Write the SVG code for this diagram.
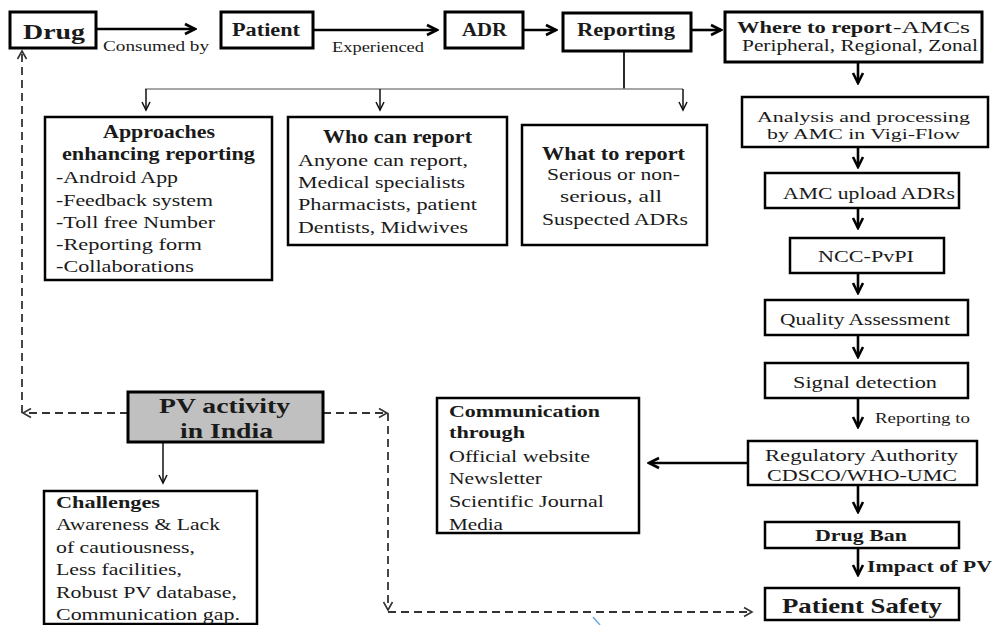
<svg xmlns="http://www.w3.org/2000/svg" width="996" height="625" viewBox="0 0 996 625">
<style>
text{font-family:"Liberation Serif","Times New Roman",serif;fill:#1a1a1a;}
.b{font-weight:bold;}
.box{fill:#fff;stroke:#000;stroke-width:3;}
.box2{fill:#fff;stroke:#000;stroke-width:2.5;}
.gray{fill:#c0c0c0;stroke:#000;stroke-width:3;}
.thick{stroke:#000;stroke-width:2.6;fill:none;}
.thin{stroke:#111;stroke-width:1.5;fill:none;}
.dash{stroke:#333;stroke-width:1.8;fill:none;stroke-dasharray:8 5;}
.f14{font-size:14px;}
.f15{font-size:15px;}
.f16{font-size:16px;}
.f17{font-size:17px;}
.f18{font-size:18px;}
</style>
<defs>
<marker id="mThick" viewBox="-2 -2 14 14" refX="10" refY="5" markerWidth="14" markerHeight="14" markerUnits="userSpaceOnUse" orient="auto">
<path d="M0,0 L10,5 L0,10" fill="none" stroke="#000" stroke-width="2.6"/>
</marker>
<marker id="mThin" viewBox="-2 -2 12 12" refX="8" refY="4" markerWidth="12" markerHeight="12" markerUnits="userSpaceOnUse" orient="auto">
<path d="M0,0 L8,4 L0,8" fill="none" stroke="#111" stroke-width="1.5"/>
</marker>
<marker id="mDash" viewBox="-2 -2 12 12" refX="8" refY="4.5" markerWidth="12" markerHeight="12" markerUnits="userSpaceOnUse" orient="auto">
<path d="M0,0 L8,4.5 L0,9" fill="none" stroke="#333" stroke-width="1.6"/>
</marker>
</defs>
<rect width="996" height="625" fill="#fff"/>

<g id="connectors">
<line class="thick" x1="97" y1="29" x2="195" y2="29" marker-end="url(#mThick)"/>
<line class="thick" x1="313" y1="30" x2="437" y2="30" marker-end="url(#mThick)"/>
<line class="thick" x1="523" y1="30" x2="556" y2="30" marker-end="url(#mThick)"/>
<line class="thick" x1="691" y1="30" x2="721" y2="30" marker-end="url(#mThick)"/>
<line stroke="#111" stroke-width="1.8" x1="624" y1="51" x2="624" y2="89"/>
<line stroke="#888" stroke-width="1.6" x1="145" y1="89" x2="683" y2="89"/>
<line class="thin" x1="146" y1="89" x2="146" y2="110" marker-end="url(#mThin)"/>
<line class="thin" x1="380" y1="89" x2="380" y2="110" marker-end="url(#mThin)"/>
<line class="thin" x1="683" y1="89" x2="683" y2="110" marker-end="url(#mThin)"/>
<line class="thick" x1="858" y1="62" x2="858" y2="83" marker-end="url(#mThick)"/>
<line class="thick" x1="858" y1="147" x2="858" y2="167" marker-end="url(#mThick)"/>
<line class="thick" x1="858" y1="208" x2="858" y2="228" marker-end="url(#mThick)"/>
<line class="thick" x1="858" y1="273" x2="858" y2="293" marker-end="url(#mThick)"/>
<line class="thick" x1="858" y1="335" x2="858" y2="357" marker-end="url(#mThick)"/>
<line class="thick" x1="858" y1="398" x2="858" y2="427" marker-end="url(#mThick)"/>
<line class="thick" x1="858" y1="485" x2="858" y2="512" marker-end="url(#mThick)"/>
<line class="thick" x1="858" y1="548" x2="858" y2="575" marker-end="url(#mThick)"/>
<line class="thick" x1="748" y1="463" x2="649" y2="463" marker-end="url(#mThick)"/>
<line class="thin" x1="163" y1="442" x2="163" y2="483" marker-end="url(#mThin)"/>
<line class="dash" x1="128" y1="413" x2="23" y2="413" marker-end="url(#mDash)"/>
<line class="dash" x1="22" y1="413" x2="22" y2="51" marker-end="url(#mDash)"/>
<line class="dash" x1="323" y1="413" x2="387" y2="413" marker-end="url(#mDash)"/>
<line class="dash" x1="388" y1="413" x2="388" y2="610" marker-end="url(#mDash)"/>
<line class="dash" x1="388" y1="612" x2="752" y2="612" marker-end="url(#mDash)"/>
<line stroke="#6fa8dc" stroke-width="1.5" x1="593" y1="617" x2="600" y2="625"/>
</g>

<g id="drug">
<rect class="box" x="10" y="12" width="86" height="36"/>
<text class="b" x="23" y="39" font-size="21" textLength="62" lengthAdjust="spacingAndGlyphs">Drug</text>
</g>
<g id="label-consumed">
<text class="f14" x="103" y="51" textLength="106" lengthAdjust="spacingAndGlyphs">Consumed by</text>
</g>
<g id="patient">
<rect class="box" x="221" y="12" width="92" height="36"/>
<text class="b f18" x="232" y="36" textLength="68" lengthAdjust="spacingAndGlyphs">Patient</text>
</g>
<g id="label-experienced">
<text class="f14" x="332" y="52" textLength="92" lengthAdjust="spacingAndGlyphs">Experienced</text>
</g>
<g id="adr">
<rect class="box" x="445" y="12" width="78" height="36"/>
<text class="b f18" x="462" y="36" textLength="45" lengthAdjust="spacingAndGlyphs">ADR</text>
</g>
<g id="reporting">
<rect class="box" x="563" y="13" width="128" height="38"/>
<text class="b f18" x="577" y="36" textLength="98" lengthAdjust="spacingAndGlyphs">Reporting</text>
</g>
<g id="where">
<rect class="box" x="725" y="12" width="257" height="50"/>
<text class="b f16" x="737" y="33" textLength="155" lengthAdjust="spacingAndGlyphs">Where to report</text>
<text class="f16" x="893" y="33" textLength="77" lengthAdjust="spacingAndGlyphs">-AMCs</text>
<text class="f16" x="742" y="51" textLength="236" lengthAdjust="spacingAndGlyphs">Peripheral, Regional, Zonal</text>
</g>

<g id="approaches">
<rect class="box2" x="45" y="117" width="227" height="163"/>
<text class="b f18" x="103" y="138" textLength="112" lengthAdjust="spacingAndGlyphs">Approaches</text>
<text class="b f18" x="62" y="160" textLength="193" lengthAdjust="spacingAndGlyphs">enhancing reporting</text>
<text class="f17" x="56" y="183" textLength="122" lengthAdjust="spacingAndGlyphs">-Android App</text>
<text class="f17" x="56" y="206" textLength="157" lengthAdjust="spacingAndGlyphs">-Feedback system</text>
<text class="f17" x="56" y="228" textLength="159" lengthAdjust="spacingAndGlyphs">-Toll free Number</text>
<text class="f17" x="56" y="250" textLength="146" lengthAdjust="spacingAndGlyphs">-Reporting form</text>
<text class="f17" x="56" y="272" textLength="138" lengthAdjust="spacingAndGlyphs">-Collaborations</text>
</g>

<g id="who">
<rect class="box2" x="288" y="117" width="219" height="128"/>
<text class="b f18" x="323" y="143" textLength="149" lengthAdjust="spacingAndGlyphs">Who can report</text>
<text class="f17" x="298" y="166" textLength="170" lengthAdjust="spacingAndGlyphs">Anyone can report,</text>
<text class="f17" x="298" y="188" textLength="167" lengthAdjust="spacingAndGlyphs">Medical specialists</text>
<text class="f17" x="298" y="210" textLength="179" lengthAdjust="spacingAndGlyphs">Pharmacists, patient</text>
<text class="f17" x="298" y="233" textLength="170" lengthAdjust="spacingAndGlyphs">Dentists, Midwives</text>
</g>

<g id="what">
<rect class="box2" x="522" y="125" width="185" height="120"/>
<text class="b f18" x="542" y="160" textLength="143" lengthAdjust="spacingAndGlyphs">What to report</text>
<text class="f17" x="547" y="180" textLength="133" lengthAdjust="spacingAndGlyphs">Serious or non-</text>
<text class="f17" x="560" y="202" textLength="102" lengthAdjust="spacingAndGlyphs">serious, all</text>
<text class="f17" x="542" y="225" textLength="146" lengthAdjust="spacingAndGlyphs">Suspected ADRs</text>
</g>

<g id="analysis">
<rect class="box2" x="742" y="97" width="246" height="50"/>
<text class="f15" x="757" y="122" textLength="213" lengthAdjust="spacingAndGlyphs">Analysis and processing</text>
<text class="f15" x="767" y="139" textLength="193" lengthAdjust="spacingAndGlyphs">by AMC in Vigi-Flow</text>
</g>
<g id="upload">
<rect class="box2" x="765" y="173" width="194" height="35"/>
<text class="f17" x="783" y="199" textLength="172" lengthAdjust="spacingAndGlyphs">AMC upload ADRs</text>
</g>
<g id="ncc">
<rect class="box2" x="790" y="238" width="154" height="35"/>
<text class="f17" x="818" y="262" textLength="96" lengthAdjust="spacingAndGlyphs">NCC-PvPI</text>
</g>
<g id="quality">
<rect class="box2" x="765" y="300" width="203" height="35"/>
<text class="f17" x="780" y="325" textLength="170" lengthAdjust="spacingAndGlyphs">Quality Assessment</text>
</g>
<g id="signal">
<rect class="box2" x="765" y="363" width="203" height="35"/>
<text class="f17" x="793" y="388" textLength="144" lengthAdjust="spacingAndGlyphs">Signal detection</text>
</g>
<g id="label-reporting-to">
<text class="f14" x="875" y="423" textLength="95" lengthAdjust="spacingAndGlyphs">Reporting to</text>
</g>
<g id="regulatory">
<rect class="box2" x="748" y="441" width="229" height="44"/>
<text class="f17" x="765" y="461" textLength="193" lengthAdjust="spacingAndGlyphs">Regulatory Authority</text>
<text class="f17" x="767" y="481" textLength="190" lengthAdjust="spacingAndGlyphs">CDSCO/WHO-UMC</text>
</g>
<g id="drugban">
<rect class="box2" x="765" y="522" width="194" height="26"/>
<text class="b f17" x="815" y="541" textLength="92" lengthAdjust="spacingAndGlyphs">Drug Ban</text>
</g>
<g id="label-impact">
<text class="b" x="867" y="572" font-size="16" textLength="125" lengthAdjust="spacingAndGlyphs">Impact of PV</text>
</g>
<g id="safety">
<rect class="box2" x="765" y="588" width="194" height="32"/>
<text class="b" x="782" y="613" font-size="21" textLength="160" lengthAdjust="spacingAndGlyphs">Patient Safety</text>
</g>

<g id="communication">
<rect class="box2" x="437" y="398" width="202" height="135"/>
<text class="b f17" x="449" y="417" textLength="151" lengthAdjust="spacingAndGlyphs">Communication</text>
<text class="b f17" x="449" y="438" textLength="76" lengthAdjust="spacingAndGlyphs">through</text>
<text class="f17" x="449" y="462" textLength="141" lengthAdjust="spacingAndGlyphs">Official website</text>
<text class="f17" x="449" y="484" textLength="93" lengthAdjust="spacingAndGlyphs">Newsletter</text>
<text class="f17" x="449" y="507" textLength="155" lengthAdjust="spacingAndGlyphs">Scientific Journal</text>
<text class="f17" x="449" y="530" textLength="54" lengthAdjust="spacingAndGlyphs">Media</text>
</g>

<g id="pv">
<rect class="gray" x="128" y="392" width="195" height="50"/>
<text class="b" x="159" y="413" font-size="22" textLength="131" lengthAdjust="spacingAndGlyphs">PV activity</text>
<text class="b" x="180" y="438" font-size="22" textLength="93" lengthAdjust="spacingAndGlyphs">in India</text>
</g>

<g id="challenges">
<rect class="box2" x="44" y="491" width="213" height="133"/>
<text class="b f17" x="56" y="508" textLength="104" lengthAdjust="spacingAndGlyphs">Challenges</text>
<text class="f17" x="56" y="530" textLength="164" lengthAdjust="spacingAndGlyphs">Awareness &amp; Lack</text>
<text class="f17" x="56" y="553" textLength="139" lengthAdjust="spacingAndGlyphs">of cautiousness,</text>
<text class="f17" x="56" y="575" textLength="126" lengthAdjust="spacingAndGlyphs">Less facilities,</text>
<text class="f17" x="56" y="598" textLength="181" lengthAdjust="spacingAndGlyphs">Robust PV database,</text>
<text class="f17" x="56" y="620" textLength="184" lengthAdjust="spacingAndGlyphs">Communication gap.</text>
</g>
</svg>
